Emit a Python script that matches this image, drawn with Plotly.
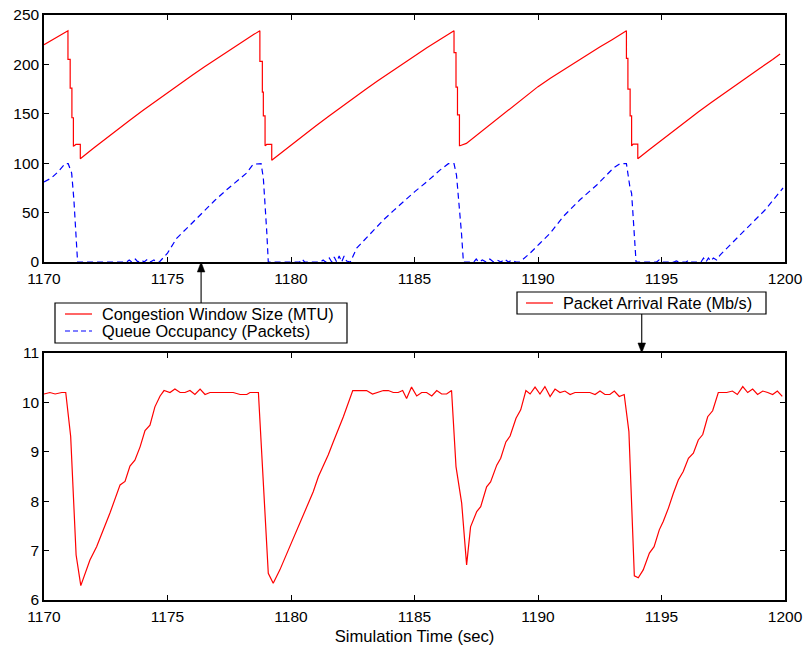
import plotly.graph_objects as go

# ---------------- data ----------------
cwnd_t = [1170.00, 1170.97, 1170.97, 1171.06, 1171.06, 1171.13, 1171.13, 1171.19, 1171.19, 1171.29, 1171.47, 1171.47,
          1172.00, 1172.50, 1173.00, 1173.50, 1174.00, 1174.50, 1175.00, 1175.50, 1176.00, 1176.50, 1177.00, 1177.50,
          1178.00, 1178.50, 1178.74,
          1178.74, 1178.84, 1178.84, 1178.88, 1178.88, 1178.95, 1178.95, 1179.02, 1179.22, 1179.22,
          1179.50, 1180.00, 1180.50, 1181.00, 1181.50, 1182.00, 1182.50, 1183.00, 1183.50, 1184.00, 1184.50, 1185.00,
          1185.50, 1186.00, 1186.60,
          1186.60, 1186.68, 1186.68, 1186.74, 1186.74, 1186.82, 1186.82, 1186.84,
          1187.10, 1187.50, 1188.00, 1188.50, 1189.00, 1189.50, 1190.00, 1190.50, 1191.00, 1191.50, 1192.00, 1192.50,
          1193.00, 1193.58,
          1193.58, 1193.64, 1193.64, 1193.73, 1193.73, 1193.79, 1193.79, 1193.85, 1194.04, 1194.04,
          1194.50, 1195.00, 1195.50, 1196.00, 1196.50, 1197.00, 1197.50, 1198.00, 1198.50, 1199.00, 1199.50, 1199.80]
cwnd_v = [220.0, 234.0, 205.0, 205.0, 176.0, 176.0, 146.0, 146.0, 117.0, 119.0, 119.0, 104.6,
          115.1, 124.9, 134.5, 144.0, 153.3, 162.4, 171.5, 180.3, 189.0, 197.6, 206.0, 214.3,
          222.4, 230.4, 234.0,
          203.0, 203.0, 172.0, 172.0, 148.0, 148.0, 117.7, 119.0, 119.0, 103.0,
          108.6, 118.4, 128.1, 137.7, 147.0, 156.3, 165.4, 174.3, 183.1, 191.7, 200.2, 208.6,
          216.8, 224.8, 234.0,
          212.0, 212.0, 177.0, 177.0, 149.0, 149.0, 117.7, 117.7,
          120.0, 128.0, 138.0, 148.0, 158.0, 167.5, 177.5, 186.0, 194.0, 202.0, 210.0, 217.5,
          225.0, 234.0,
          206.0, 206.0, 175.0, 175.0, 148.0, 148.0, 117.4, 119.4, 119.4, 104.6,
          113.7, 123.5, 133.2, 142.6, 152.0, 161.2, 170.2, 179.1, 187.8, 196.4, 204.9, 210.5]

queue_t = [1170.00, 1170.30, 1170.60, 1170.85, 1170.98, 1171.12, 1171.21, 1171.30, 1171.36,
           1173.35, 1173.45, 1173.55, 1173.70, 1173.80, 1173.95, 1174.05, 1174.20, 1174.30, 1174.45, 1174.55, 1174.67,
           1175.00, 1175.37, 1175.90, 1176.45, 1176.90, 1177.39, 1177.80, 1178.20, 1178.47, 1178.79,
           1178.88, 1178.95, 1179.02, 1179.08,
           1180.35, 1180.45, 1180.55, 1181.20, 1181.30, 1181.40, 1181.55, 1181.65, 1181.75, 1181.85, 1181.95,
           1182.05, 1182.15, 1182.25, 1182.40,
           1182.66, 1183.20, 1183.74, 1184.15, 1184.55, 1185.00, 1185.49, 1186.03, 1186.37, 1186.60,
           1186.70, 1186.80, 1186.90, 1186.98,
           1187.40, 1187.50, 1187.60, 1187.75, 1187.90, 1188.05, 1188.20, 1188.35, 1188.50, 1188.65, 1188.80,
           1188.95, 1189.10, 1189.27,
           1189.68, 1190.08, 1190.49, 1191.02, 1191.70, 1192.38, 1193.05, 1193.32, 1193.58,
           1193.72, 1193.79, 1193.88, 1193.97,
           1194.80, 1194.90, 1195.00, 1195.50, 1195.60, 1195.70, 1196.00, 1196.10, 1196.20, 1196.60, 1196.70,
           1196.80, 1196.90, 1197.00, 1197.10, 1197.23,
           1197.37, 1197.98, 1198.58, 1199.19, 1199.92]
queue_v = [81.0, 85.0, 92.0, 99.5, 99.5, 90.0, 63.0, 29.0, 0.0,
           0.0, 2.0, 0.0, 3.0, 0.0, 2.0, 0.0, 3.0, 0.0, 2.0, 0.0, 0.0,
           9.0, 24.0, 37.0, 51.0, 62.0, 73.0, 82.0, 90.0, 99.0, 99.5,
           85.0, 60.0, 30.0, 0.0,
           0.0, 3.0, 0.0, 0.0, 2.0, 0.0, 4.0, 0.0, 5.0, 0.0, 6.0,
           0.0, 6.0, 1.0, 0.0,
           14.0, 28.0, 42.5, 52.0, 61.0, 71.0, 81.0, 93.0, 99.5, 99.5,
           88.0, 62.0, 30.0, 0.0,
           0.0, 3.0, 0.0, 2.0, 0.0, 3.0, 0.0, 2.0, 0.0, 3.0, 0.0,
           2.0, 0.0, 0.0,
           9.0, 19.0, 29.0, 46.0, 63.0, 78.0, 95.0, 99.5, 99.5,
           76.0, 69.5, 35.0, 0.0,
           0.0, 2.0, 0.0, 0.0, 1.0, 0.0, 0.0, 2.0, 0.0, 0.0, 4.0,
           0.0, 4.0, 1.0, 4.0, 2.0,
           7.0, 22.0, 37.5, 52.6, 74.9]

rate_t = [1170.00, 1170.24, 1170.45, 1170.72, 1170.88, 1171.08, 1171.30, 1171.49, 1171.86, 1172.13, 1172.67,
          1173.08, 1173.28, 1173.48, 1173.68, 1173.89, 1174.09, 1174.29, 1174.49, 1174.70, 1174.86, 1175.10,
          1175.30, 1175.51, 1175.71, 1175.91, 1176.11, 1176.32, 1176.52, 1176.72, 1177.66, 1177.94, 1178.21,
          1178.34, 1178.68, 1179.08, 1179.28, 1179.55, 1179.89, 1180.30, 1180.63, 1180.90, 1181.11, 1181.51,
          1181.71, 1182.12, 1182.50, 1183.06, 1183.30, 1183.74, 1183.94, 1184.14, 1184.34, 1184.52, 1184.68,
          1184.88, 1185.09, 1185.29, 1185.49, 1185.70, 1185.90, 1186.10, 1186.30, 1186.50, 1186.68, 1186.91,
          1187.11, 1187.27, 1187.52, 1187.68, 1187.92, 1188.08, 1188.33, 1188.49, 1188.70, 1188.87, 1189.11,
          1189.30, 1189.51, 1189.68, 1189.88, 1190.08, 1190.28, 1190.49, 1190.69, 1190.89, 1191.09, 1191.30,
          1191.50, 1192.10, 1192.31, 1192.51, 1192.71, 1192.91, 1193.09, 1193.29, 1193.49, 1193.68, 1193.90,
          1194.06, 1194.26, 1194.51, 1194.70, 1194.91, 1195.07, 1195.28, 1195.48, 1195.68, 1195.88, 1196.09,
          1196.29, 1196.49, 1196.67, 1196.87, 1197.07, 1197.30, 1197.64, 1197.87, 1198.07, 1198.29, 1198.49,
          1198.69, 1198.89, 1199.10, 1199.30, 1199.50, 1199.69, 1199.89]
rate_v = [10.17, 10.20, 10.17, 10.20, 10.20, 9.31, 6.91, 6.29, 6.81, 7.08, 7.76,
          8.33, 8.40, 8.71, 8.83, 9.10, 9.43, 9.54, 9.91, 10.13, 10.24, 10.20,
          10.27, 10.20, 10.20, 10.24, 10.16, 10.27, 10.16, 10.20, 10.20, 10.16, 10.16,
          10.20, 10.20, 6.54, 6.34, 6.61, 7.01, 7.48, 7.89, 8.19, 8.50, 8.94,
          9.20, 9.71, 10.24, 10.24, 10.17, 10.24, 10.24, 10.20, 10.20, 10.24, 10.08,
          10.31, 10.13, 10.20, 10.20, 10.13, 10.24, 10.17, 10.17, 10.24, 8.70, 7.96,
          6.71, 7.48, 7.79, 7.89, 8.29, 8.39, 8.73, 8.87, 9.20, 9.32, 9.68,
          9.85, 10.24, 10.17, 10.31, 10.17, 10.32, 10.12, 10.27, 10.20, 10.23, 10.16,
          10.20, 10.20, 10.16, 10.23, 10.16, 10.16, 10.23, 10.12, 10.16, 9.41, 6.49,
          6.45, 6.61, 6.95, 7.08, 7.42, 7.59, 7.86, 8.16, 8.43, 8.60, 8.87,
          8.97, 9.24, 9.35, 9.71, 9.83, 10.20, 10.20, 10.23, 10.16, 10.32, 10.20,
          10.27, 10.16, 10.23, 10.20, 10.16, 10.23, 10.12]

x_ticks = [1170, 1175, 1180, 1185, 1190, 1195, 1200]
top_y_ticks = [0, 50, 100, 150, 200, 250]
bottom_y_ticks = [6, 7, 8, 9, 10, 11]

name_cwnd = "Congestion Window Size (MTU)"
name_queue = "Queue Occupancy (Packets)"
name_rate = "Packet Arrival Rate (Mb/s)"
x_title = "Simulation Time (sec)"

# times the two legend arrows point at
arrow_top_t = 1176.36
arrow_bottom_t = 1194.2

# ---------------- figure ----------------
W, H = 807, 648
FONT = "Liberation Sans, Arial, Helvetica, sans-serif"
FS = 15.5
LFS = 16.3
TFS = 16.6
RED = "#ff0000"
BLUE = "#0000ff"
DASH = "6px,4px"

PX_L, PX_R = 44, 785
TOP_T, TOP_B = 15, 262
BOT_T, BOT_B = 353, 600
X_RANGE = [1170, 1200]

fig = go.Figure()
fig.add_trace(go.Scatter(x=cwnd_t, y=cwnd_v, mode="lines", name=name_cwnd, showlegend=False,
                         line=dict(color=RED, width=1.2), xaxis="x", yaxis="y"))
fig.add_trace(go.Scatter(x=queue_t, y=queue_v, mode="lines", name=name_queue, showlegend=False,
                         line=dict(color=BLUE, width=1.2, dash=DASH), xaxis="x", yaxis="y"))
fig.add_trace(go.Scatter(x=rate_t, y=rate_v, mode="lines", name=name_rate, showlegend=False,
                         line=dict(color=RED, width=1.2), xaxis="x2", yaxis="y2"))


def px_x(p):
    return p / W


def px_y(p):
    return 1 - p / H


def t_to_px(t):
    return PX_L + (t - X_RANGE[0]) * (PX_R - PX_L) / (X_RANGE[1] - X_RANGE[0])


axis_common = dict(showline=True, linecolor="black", linewidth=1.5, mirror="ticks",
                   ticks="inside", ticklen=5, tickwidth=1, tickcolor="black",
                   showgrid=False, zeroline=False, automargin=False,
                   tickfont=dict(family=FONT, size=FS, color="black"))

dom_x = [px_x(PX_L), px_x(PX_R)]
fig.update_layout(
    width=W, height=H, margin=dict(l=0, r=0, t=0, b=0),
    paper_bgcolor="white", plot_bgcolor="white",
    font=dict(family=FONT, size=FS, color="black"),
    xaxis=dict(domain=dom_x, range=X_RANGE, tickvals=x_ticks, anchor="y", ticklabelstandoff=2,
               **axis_common),
    yaxis=dict(domain=[px_y(TOP_B), px_y(TOP_T)], range=[0, 250], tickvals=top_y_ticks, anchor="x",
               **axis_common),
    xaxis2=dict(domain=dom_x, range=X_RANGE, tickvals=x_ticks, anchor="y2", ticklabelstandoff=2,
                title=dict(text=x_title, font=dict(family=FONT, size=TFS, color="black"), standoff=6),
                **axis_common),
    yaxis2=dict(domain=[px_y(BOT_B), px_y(BOT_T)], range=[6, 11], tickvals=bottom_y_ticks, anchor="x2",
                **axis_common),
    showlegend=False,
)


# ----- legend boxes drawn as shapes + text -----
def rect(x0, y0, x1, y1):
    fig.add_shape(type="rect", xref="paper", yref="paper",
                  x0=px_x(x0), x1=px_x(x1), y0=px_y(y1), y1=px_y(y0),
                  line=dict(color="black", width=1.2), fillcolor="white", layer="above")


def hline(x0, x1, y, color, dash=None):
    ln = dict(color=color, width=1.2)
    if dash:
        ln["dash"] = dash
    fig.add_shape(type="line", xref="paper", yref="paper",
                  x0=px_x(x0), x1=px_x(x1), y0=px_y(y), y1=px_y(y), line=ln, layer="above")


def label(x, y, text):
    fig.add_annotation(xref="paper", yref="paper", x=px_x(x), y=px_y(y), text=text,
                       showarrow=False, xanchor="left", yanchor="middle",
                       font=dict(family=FONT, size=LFS, color="black"))


def arrow(x, y_tail, y_tip):
    # shaft
    d = 1 if y_tip > y_tail else -1
    y_base = y_tip - d * 10
    fig.add_shape(type="line", xref="paper", yref="paper",
                  x0=px_x(x), x1=px_x(x), y0=px_y(y_tail), y1=px_y(y_base),
                  line=dict(color="black", width=1.1), layer="above")
    # head
    path = "M {:.5f},{:.5f} L {:.5f},{:.5f} L {:.5f},{:.5f} Z".format(
        px_x(x), px_y(y_tip), px_x(x - 3.8), px_y(y_base), px_x(x + 3.8), px_y(y_base))
    fig.add_shape(type="path", xref="paper", yref="paper", path=path,
                  fillcolor="black", line=dict(color="black", width=0.5), layer="above")


rect(55, 303, 347, 343)
hline(65, 92, 314, RED)
hline(65, 92, 331, BLUE, "5px,3px")
label(100, 314, name_cwnd)
label(100, 331, name_queue)

rect(517, 292, 766, 314)
hline(526, 553, 303, RED)
label(561, 303, name_rate)

arrow(t_to_px(arrow_top_t), 303, TOP_B)
arrow(t_to_px(arrow_bottom_t), 314, BOT_T)

fig.write_html("out.html", post_script="document.body.style.margin='0';",
               config={"displayModeBar": False})
